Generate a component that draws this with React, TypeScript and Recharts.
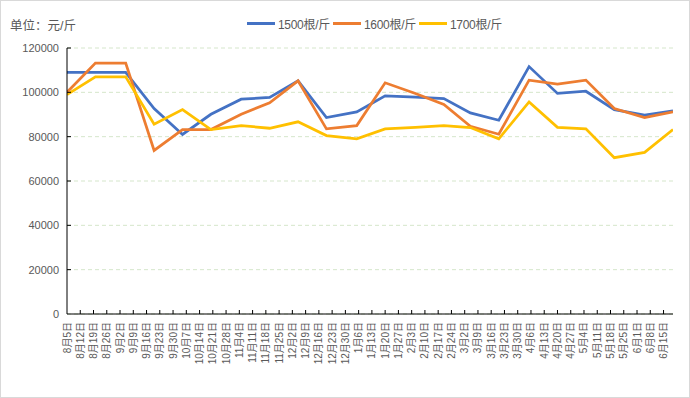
import React from "react";
import { LineChart, Line, XAxis, YAxis, CartesianGrid } from "recharts";

const pointDates = [
  "2019-08-05", "2019-08-20", "2019-09-05", "2019-09-20", "2019-10-05", "2019-10-20",
  "2019-11-05", "2019-11-20", "2019-12-05", "2019-12-20", "2020-01-05", "2020-01-20",
  "2020-02-05", "2020-02-20", "2020-03-05", "2020-03-20", "2020-04-05", "2020-04-20",
  "2020-05-05", "2020-05-20", "2020-06-05", "2020-06-20",
];

const series1500 = [109000, 109000, 109000, 92700, 81000, 90100, 96900, 97700, 105200, 88600, 91200, 98400, 97800, 97200, 90700, 87400, 111600, 99500, 100500, 92200, 89700, 91600];
const series1600 = [100000, 113200, 113200, 73800, 83200, 83200, 90100, 95300, 105200, 83500, 85000, 104300, 99500, 94500, 84700, 81100, 105500, 103700, 105500, 92700, 88600, 91200];
const series1700 = [99000, 107000, 107000, 85600, 92200, 83200, 85000, 83800, 86700, 80500, 79000, 83500, 84200, 85000, 84100, 79000, 95700, 84200, 83500, 70500, 72900, 83200];

const weekLabels = [
  "8月5日", "8月12日", "8月19日", "8月26日", "9月2日", "9月9日", "9月16日", "9月23日", "9月30日",
  "10月7日", "10月14日", "10月21日", "10月28日", "11月4日", "11月11日", "11月18日", "11月25日",
  "12月2日", "12月9日", "12月16日", "12月23日", "12月30日", "1月6日", "1月13日", "1月20日", "1月27日",
  "2月3日", "2月10日", "2月17日", "2月24日", "3月2日", "3月9日", "3月16日", "3月23日", "3月30日",
  "4月6日", "4月13日", "4月20日", "4月27日", "5月4日", "5月11日", "5月18日", "5月25日",
  "6月1日", "6月8日", "6月15日",
];

const yTicks = [0, 20000, 40000, 60000, 80000, 100000, 120000];
const seriesNames = ["1500根/斤", "1600根/斤", "1700根/斤"];
const colors = ["#4472C4", "#ED7D31", "#FFC000"];

const startDate = "2019-08-05";
const endDate = "2020-06-20";

const toDay = (iso: string) => {
  const [y, m, d] = iso.split("-").map(Number);
  const [y0, m0, d0] = startDate.split("-").map(Number);
  return Math.round((Date.UTC(y, m - 1, d) - Date.UTC(y0, m0 - 1, d0)) / 86400000);
};

const data = pointDates.map((d, i) => ({
  day: toDay(d),
  a: series1500[i],
  b: series1600[i],
  c: series1700[i],
}));

const weekTicks = weekLabels.map((_, i) => i * 7);

const FONT = '"Liberation Sans", "Noto Sans CJK SC", sans-serif';
const TXT = "#595959";
const MARGIN = 8;

const XTick = (props: any) => {
  const { x, y, payload } = props;
  const idx = Math.round(payload.value / 7);
  const axisY = y - MARGIN;
  return (
    <g>
      {idx > 0 && <line x1={x} x2={x} y1={axisY} y2={axisY - 4} stroke="#000" strokeWidth={1} />}
      <text
        x={x}
        y={y}
        transform={`rotate(-90, ${x}, ${y})`}
        textAnchor="end"
        dominantBaseline="central"
        fontSize={10}
        fill={TXT}
        fontFamily={FONT}
      >
        {weekLabels[idx]}
      </text>
    </g>
  );
};

const YTick = (props: any) => {
  const { x, y, payload } = props;
  const axisX = x + MARGIN;
  return (
    <g>
      {payload.value > 0 && <line x1={axisX} x2={axisX + 4} y1={y} y2={y} stroke="#000" strokeWidth={1} />}
      <text x={x} y={y} textAnchor="end" dominantBaseline="central" fontSize={11} fill={TXT} fontFamily={FONT}>
        {payload.value}
      </text>
    </g>
  );
};

export default function App() {
  return (
    <div
      style={{
        position: "fixed",
        left: 0,
        top: 0,
        width: 690,
        height: 398,
        background: "#fff",
        fontFamily: FONT,
      }}
    >
      <div
        style={{
          position: "absolute",
          left: 0,
          top: 0,
          width: 690,
          height: 398,
          border: "1px solid #d9d9d9",
          boxSizing: "border-box",
          pointerEvents: "none",
          zIndex: 2,
        }}
      />
      <div style={{ position: "absolute", left: 10, top: 16, fontSize: 12.5, color: TXT, whiteSpace: "nowrap", lineHeight: "20px" }}>
        单位：元/斤
      </div>
      <div style={{ position: "absolute", left: 247, top: 14, display: "flex", alignItems: "center", height: 19 }}>
        {seriesNames.map((n, i) => (
          <div key={n} style={{ display: "flex", alignItems: "center", width: 86 }}>
            <div style={{ width: 28, height: 3, background: colors[i], marginRight: 3, flexShrink: 0 }} />
            <span style={{ fontSize: 12, color: TXT, whiteSpace: "nowrap", letterSpacing: -0.3 }}>{n}</span>
          </div>
        ))}
      </div>
      <div style={{ position: "absolute", left: 0, top: 0 }}>
        <LineChart width={690} height={398} data={data} margin={{ top: 48, right: 17, bottom: 0, left: 0 }}>
          <CartesianGrid horizontal vertical={false} stroke="#d5e6cb" strokeDasharray="4 3" />
          <XAxis
            dataKey="day"
            type="number"
            domain={[0, toDay(endDate)]}
            ticks={weekTicks}
            interval={0}
            height={84}
            tickSize={0}
            tickMargin={MARGIN}
            tickLine={false}
            axisLine={{ stroke: "#000", strokeWidth: 1 }}
            tick={<XTick />}
            allowDataOverflow
          />
          <YAxis
            type="number"
            domain={[0, 120000]}
            ticks={yTicks}
            interval={0}
            width={67}
            tickSize={0}
            tickMargin={MARGIN}
            tickLine={false}
            axisLine={{ stroke: "#000", strokeWidth: 1 }}
            tick={<YTick />}
          />
          <Line type="linear" dataKey="a" name={seriesNames[0]} stroke={colors[0]} strokeWidth={2.75} dot={false} isAnimationActive={false} />
          <Line type="linear" dataKey="b" name={seriesNames[1]} stroke={colors[1]} strokeWidth={2.75} dot={false} isAnimationActive={false} />
          <Line type="linear" dataKey="c" name={seriesNames[2]} stroke={colors[2]} strokeWidth={2.75} dot={false} isAnimationActive={false} />
        </LineChart>
      </div>
    </div>
  );
}
